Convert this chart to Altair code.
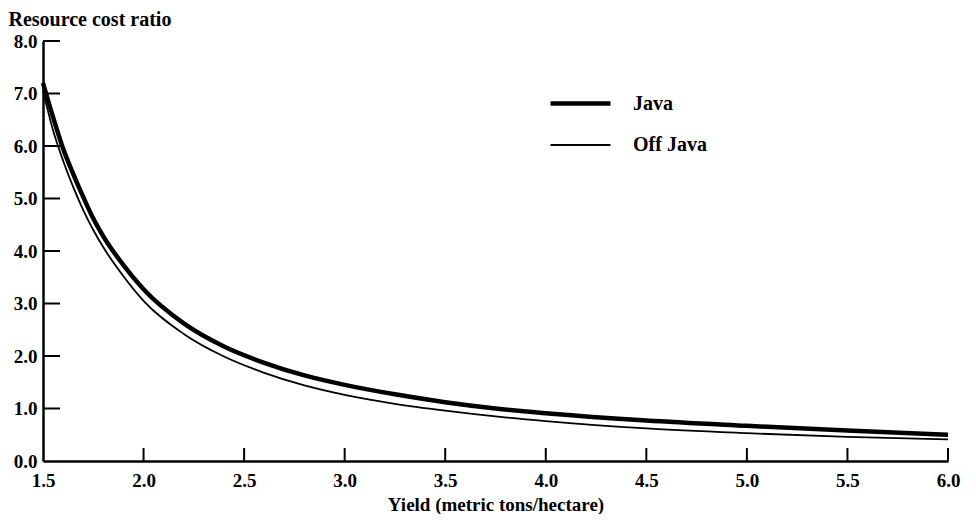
import altair as alt
import pandas as pd

# Values
yield_values = [1.5, 1.55, 1.6, 1.65, 1.7, 1.75, 1.8, 1.9, 2.0, 2.2, 2.4, 2.6, 2.8,
                3.0, 3.25, 3.5, 3.75, 4.0, 4.5, 5.0, 5.5, 6.0]
ratio_java = [7.2, 6.55, 5.95, 5.47, 5.03, 4.62, 4.28, 3.73, 3.27, 2.62, 2.18, 1.87, 1.63,
              1.45, 1.27, 1.12, 1.00, 0.91, 0.77, 0.67, 0.58, 0.50]
ratio_off_java = [7.05, 6.3, 5.72, 5.22, 4.78, 4.40, 4.07, 3.52, 3.05, 2.42, 1.99, 1.68, 1.44,
                  1.26, 1.09, 0.96, 0.85, 0.76, 0.62, 0.53, 0.46, 0.41]
series_names = ["Java", "Off Java"]
x_tick_values = [1.5, 2.0, 2.5, 3.0, 3.5, 4.0, 4.5, 5.0, 5.5, 6.0]
y_tick_values = [0.0, 1.0, 2.0, 3.0, 4.0, 5.0, 6.0, 7.0, 8.0]

rows = []
for x, j, o in zip(yield_values, ratio_java, ratio_off_java):
    rows.append({"yield": x, "ratio": j, "series": series_names[0]})
    rows.append({"yield": x, "ratio": o, "series": series_names[1]})
df = pd.DataFrame(rows)

W, H = 905, 420
FONT = "Liberation Serif"

xscale = alt.Scale(domain=[1.5, 6.0], nice=False, zero=False)
yscale = alt.Scale(domain=[0, 8], nice=False, zero=True)

x_axis = alt.Axis(values=x_tick_values, format=".1f", title="Yield (metric tons/hectare)",
                  ticks=False, grid=False, labelFlush=False, labelPadding=10,
                  labelFont=FONT, labelFontSize=19, labelFontWeight="bold", labelColor="black",
                  titleFont=FONT, titleFontSize=19, titleFontWeight="bold", titleColor="black",
                  titleBaseline="alphabetic", titleY=49,
                  domainColor="black", domainWidth=2.5)
y_axis = alt.Axis(values=y_tick_values, format=".1f", title="Resource cost ratio",
                  ticks=False, grid=False, labelPadding=6, labelBaseline="middle",
                  labelFont=FONT, labelFontSize=19, labelFontWeight="bold", labelColor="black",
                  titleFont=FONT, titleFontSize=20, titleFontWeight="bold", titleColor="black",
                  titleAngle=0, titleAlign="left", titleBaseline="top",
                  titleX=-35, titleY=-32,
                  domainColor="black", domainWidth=2.5)

lines = alt.Chart(df).mark_line(color="black", interpolate="monotone").encode(
    x=alt.X("yield:Q", scale=xscale, axis=x_axis),
    y=alt.Y("ratio:Q", scale=yscale, axis=y_axis),
    strokeWidth=alt.StrokeWidth(
        "series:N",
        scale=alt.Scale(domain=series_names, range=[4.5, 1.8]),
        legend=alt.Legend(title=None, orient="none", legendX=505, legendY=30,
                          symbolType="stroke", symbolSize=3600, symbolStrokeColor="black",
                          labelFont=FONT, labelFontSize=20, labelFontWeight="bold",
                          labelColor="black", labelOffset=20, rowPadding=-15, padding=0),
    ),
)

x_ticks_df = pd.DataFrame({"yield": x_tick_values[1:]})
x_ticks = alt.Chart(x_ticks_df).mark_rule(color="black", strokeWidth=2).encode(
    x=alt.X("yield:Q", scale=xscale),
    y=alt.value(H),
    y2=alt.value(H - 13),
)

y_ticks_df = pd.DataFrame({"ratio": y_tick_values[1:]})
y_ticks = alt.Chart(y_ticks_df).mark_rule(color="black", strokeWidth=2).encode(
    y=alt.Y("ratio:Q", scale=yscale),
    x=alt.value(0),
    x2=alt.value(17),
)

chart = alt.layer(lines, x_ticks, y_ticks).properties(
    width=W, height=H,
    padding={"left": 35, "top": 33, "right": 20, "bottom": 53},
    autosize=alt.AutoSizeParams(type="none"),
    background="white",
).configure_view(stroke=None)

chart.save("out.html", embed_options={"renderer": "svg", "actions": False})
